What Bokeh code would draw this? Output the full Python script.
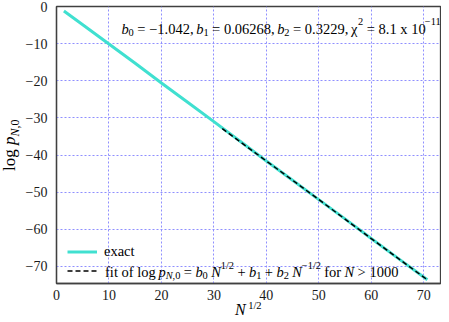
import math
from bokeh.plotting import figure
from bokeh.layouts import row, column
from bokeh.models import Label, Legend, LegendItem, FixedTicker, Range1d, Div
from bokeh.core.properties import value
from bokeh.embed import file_html
from bokeh.resources import INLINE

# ---- data ----
sqrtN_exact = [1.41, 5, 10, 15, 20, 25, 30, 35, 40, 45, 50, 55, 60, 65, 70.7]
logp_exact = [-1.2, -4.9, -10.1, -15.3, -20.6, -25.8, -31.0, -36.3, -41.6,
              -46.8, -52.0, -57.2, -62.5, -67.7, -73.6]
sqrtN_fit = [31.6, 40, 50, 60, 70.7]
logp_fit = [-32.9, -41.6, -52.0, -62.5, -73.6]
x_ticks = [0, 10, 20, 30, 40, 50, 60, 70]
y_ticks = [0, -10, -20, -30, -40, -50, -60, -70]
legend_labels = ["exact", " "]

X0, X1 = 0, 73.2
Y0, Y1 = -74.6, 0

FONT = "Liberation Serif"
TXT = 14.5

# layout geometry (page pixels)
TOTAL_W, TOTAL_H = 441, 314
L_W = 22
M_H = 302
FL, FR, FT, FB = 50.0, 440.0, 6.0, 284.0  # main frame edges

p = figure(width=TOTAL_W - L_W, height=M_H, x_range=Range1d(X0, X1), y_range=Range1d(Y0, Y1),
           output_backend="svg", toolbar_location=None,
           min_border_left=int(FL - L_W), min_border_right=int(TOTAL_W - FR),
           min_border_top=int(FT), min_border_bottom=int(M_H - FB))
p.background_fill_color = "white"
p.border_fill_color = "white"
p.outline_line_color = "#404040"
p.outline_line_width = 1.3

p.xaxis.ticker = FixedTicker(ticks=x_ticks)
p.yaxis.ticker = FixedTicker(ticks=y_ticks)
p.yaxis.major_label_overrides = {t: (("\u2212" + str(-t)) if t < 0 else str(t)) for t in y_ticks}
p.axis.axis_line_color = "#404040"
p.axis.axis_line_width = 1.3
p.axis.major_tick_line_color = None
p.axis.minor_tick_line_color = None
p.axis.major_label_text_font = FONT
p.axis.major_label_text_font_size = "14px"
p.axis.major_label_text_color = "#1a1a1a"
p.xaxis.major_label_standoff = 0
p.yaxis.major_label_standoff = 3

p.grid.grid_line_color = "#8f8fff"
p.grid.grid_line_dash = "2 2"
p.grid.grid_line_width = 1

r1 = p.line(sqrtN_exact, logp_exact, line_color="#40e0d0", line_width=3)
r2 = p.line(sqrtN_fit, logp_fit, line_color="black", line_width=1.5, line_dash="5 3")

legend = Legend(items=[LegendItem(label=value(legend_labels[0]), renderers=[r1]),
                       LegendItem(label=value(legend_labels[1]), renderers=[r2])],
                location=(11, 3.7), padding=0, margin=0, spacing=2,
                glyph_width=30, glyph_height=17, label_height=17, label_standoff=7,
                border_line_color=None, background_fill_alpha=0,
                label_text_font=FONT, label_text_font_size=f"{TXT}px", label_text_color="black")
p.add_layout(legend)

# page px -> main figure data
def main_conv(px, py):
    return (X0 + (px - FL) / (FR - FL) * (X1 - X0),
            Y1 - (py - FT) / (FB - FT) * (Y1 - Y0))

RM = {' ': 250, ',': 250, '.': 250, '/': 278, '=': 564, '+': 564, '>': 564, '\u2212': 564,
      'N': 722, 'a': 444, 'b': 500, 'c': 444, 'e': 444, 'f': 333, 'g': 500, 'i': 278,
      'l': 278, 'o': 500, 'p': 500, 'r': 333, 't': 278, 'x': 500, '\u03c7': 490}
IT = {'N': 667, 'b': 500, 'p': 500, ',': 250}

def width(s, italic, size):
    tot = 0
    for ch in s:
        if ch.isdigit():
            w = 500
        elif italic and ch in IT:
            w = IT[ch]
        else:
            w = RM.get(ch, 500)
        tot += w
    return tot * size / 1000.0

def place(fig, conv, segs, px, py, size, small=None, sup_raise=0.48):
    if small is None:
        small = round(size * 0.72, 1)
    pos = px
    for text, kind in segs:
        italic = "it" in kind
        if kind.startswith("sub"):
            fs, off = small, size * 0.25
        elif kind.startswith("sup"):
            fs, off = small, -size * sup_raise
        else:
            fs, off = size, 0
        lead = len(text) - len(text.lstrip(" "))
        shown = text.strip(" ")
        lead_w = width(" " * lead, italic, fs)
        if shown:
            dxv, dyv = conv(pos + lead_w, py + off)
            fig.add_layout(Label(x=dxv, y=dyv, x_units="data", y_units="data", text=shown,
                                 text_font=FONT, text_font_size=f"{fs}px",
                                 text_font_style="italic" if italic else "normal",
                                 text_align="left", text_baseline="alphabetic",
                                 text_color="black"))
        pos += width(text, italic, fs)

# top annotation
place(p, main_conv,
      [("b", "it"), ("0", "sub"), (" = \u22121.042, ", "rm"), ("b", "it"), ("1", "sub"),
       (" = 0.06268, ", "rm"), ("b", "it"), ("2", "sub"), (" = 0.3229, ", "rm"),
       ("\u03c7", "rm"), ("2", "sup"), (" = 8.1 x 10", "rm"), ("\u221211", "sup")],
      116, 28.5, TXT)

# legend second entry
place(p, main_conv,
      [("fit of log ", "rm"), ("p", "it"), ("N", "subit"), (",0", "sub"), (" = ", "rm"),
       ("b", "it"), ("0", "sub"), (" ", "rm"), ("N", "it"), ("1/2", "sup"), (" + ", "rm"),
       ("b", "it"), ("1", "sub"), (" + ", "rm"), ("b", "it"), ("2", "sub"), (" ", "rm"),
       ("N", "it"), ("\u22121/2", "sup"), (" for ", "rm"), ("N", "it"), (" > 1000", "rm")],
      99.3, 272.5, TXT)

# ---- axis titles as HTML text (sub/superscripts) ----
ylab_html = ('<div style="position:absolute; left:1px; top:171px; transform-origin:0 0; '
             'transform:rotate(-90deg); white-space:nowrap; font-family:\'Liberation Serif\'; '
             'font-size:17px; line-height:17px; color:black;">log <i>p</i>'
             '<span style="font-size:12px; line-height:0; vertical-align:-4px;">'
             '<i>N</i>,0</span></div>')
xlab_html = ('<div style="position:absolute; left:235px; top:0px; white-space:nowrap; '
             'font-family:\'Liberation Serif\'; font-size:16px; line-height:16px; color:black;">'
             '<i>N</i><span style="font-size:10.5px; line-height:0; vertical-align:6px; '
             'margin-left:2.5px;">1/2</span></div>')

ylab = Div(text=ylab_html, width=L_W, height=M_H, margin=0,
           styles={"position": "relative", "overflow": "visible", "margin": "0", "padding": "0"})
xlab = Div(text=xlab_html, width=TOTAL_W, height=TOTAL_H - M_H, margin=0,
           styles={"position": "relative", "overflow": "visible", "margin": "0", "padding": "0"})

layout = column(row(ylab, p, spacing=0), xlab, spacing=0)
open("out.html", "w").write(file_html(layout, INLINE))
